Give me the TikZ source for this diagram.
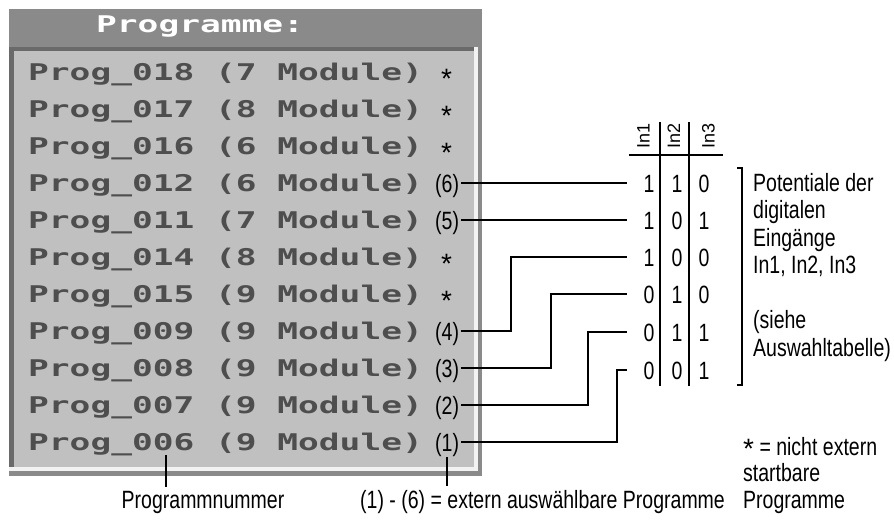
\documentclass[tikz,border=0pt]{standalone}
\usepackage{fontspec}
\setmainfont{Liberation Sans}
\newfontfamily\narrowsans[FakeStretch=0.78]{Liberation Sans}
\newfontfamily\pixfont[FakeStretch=1.5]{DejaVu Sans Mono}
\newfontfamily\starfont{Liberation Sans}
\newcommand\pstar[1]{{\starfont\fontsize{28}{28}\selectfont\raisebox{#1}[0pt][0pt]{*}}}
\definecolor{barcol}{HTML}{8A8A8A}
\definecolor{panelcol}{HTML}{C0C0C0}
\definecolor{darkedge}{HTML}{6A6A6A}
\definecolor{lightedge}{HTML}{F2F2F2}
\definecolor{pixtext}{HTML}{4E4E4E}
\begin{document}
\begin{tikzpicture}[x=1pt,y=-1pt,
  prog/.style={anchor=west,inner sep=0pt,text height=17pt,text depth=0pt,
    font=\pixfont\bfseries\fontsize{23}{23}\selectfont,text=pixtext},
  titletext/.style={prog,text=white},
  marklbl/.style={anchor=west,inner xsep=2pt,inner ysep=0pt,text height=18pt,text depth=0pt,
    font=\narrowsans\fontsize{25}{27.5}\selectfont},
  starlbl/.style={marklbl},
  digit/.style={anchor=center,inner sep=0pt,text height=18pt,text depth=0pt,
    font=\narrowsans\fontsize{25}{27.5}\selectfont},
  head/.style={rotate=90,anchor=base west,inner sep=0pt,font=\fontsize{18}{18}\selectfont},
  lbl/.style={anchor=base west,inner sep=0pt,font=\narrowsans\fontsize{25}{27.5}\selectfont},
  wire/.style={line width=2pt},
  tabline/.style={line width=1.5pt}]
\useasboundingbox (0,0) rectangle (894,520);

% panel
\fill[barcol] (9,9) rectangle (482,476);
\fill[lightedge] (9,47) rectangle (478,471);
\fill[darkedge] (9,47) rectangle (474,467);
\fill[panelcol] (14,51) rectangle (474,467);
\node[titletext] (ttl) at (96,24) {Programme:};

\foreach \i/\prnum/\prmod in {0/018/7,1/017/8,2/016/6,3/012/6,4/011/7,5/014/8,6/015/9,7/009/9,8/008/9,9/007/9,10/006/9}
  \node[prog] (p\i) at (28,{72+37*\i}) {Prog\_\prnum\ (\prmod\ Module)};

\foreach \i in {0,1,2,5,6}
  \node[starlbl] (s\i) at (439,{72+37*\i}) {\pstar{-7pt}};

\node[marklbl] (m6) at (433,183) {(6)};
\node[marklbl] (m5) at (433,220) {(5)};
\node[marklbl] (m4) at (433,331) {(4)};
\node[marklbl] (m3) at (433,368) {(3)};
\node[marklbl] (m2) at (433,405) {(2)};
\node[marklbl] (m1) at (433,442) {(1)};

% table
\coordinate (t1) at (627,183);
\coordinate (t2) at (627,220);
\coordinate (t3) at (627,257);
\coordinate (t4) at (627,294);
\coordinate (t5) at (627,332);
\coordinate (t6) at (627,370);
\coordinate (k4) at (511,0);
\coordinate (k3) at (551,0);
\coordinate (k2) at (588,0);
\coordinate (k1) at (617,0);

\draw[wire] (m6.east) -- (t1);
\draw[wire] (m5.east) -- (t2);
\draw[wire] (m4.east) -| (k4 |- t3) -- (t3);
\draw[wire] (m3.east) -| (k3 |- t4) -- (t4);
\draw[wire] (m2.east) -| (k2 |- t5) -- (t5);
\draw[wire] (m1.east) -| (k1 |- t6) -- (t6);

\draw[tabline] (629,155) -- (723,155);
\draw[tabline] (660,122) -- (660,386);
\draw[tabline] (689,122) -- (689,386);
\node[head] (h1) at (649.5,149) {In1};
\node[head] (h2) at (680,149) {In2};
\node[head] (h3) at (714.5,149) {In3};

\foreach \r/\yy/\va/\vb/\vc in {1/183/1/1/0,2/220/1/0/1,3/257/1/0/0,4/294/0/1/0,5/332/0/1/1,6/370/0/0/1}{
  \node[digit] (d\r a) at (649,\yy) {\va};
  \node[digit] (d\r b) at (677,\yy) {\vb};
  \node[digit] (d\r c) at (704,\yy) {\vc};
}

\draw[wire] (737,168) -- (742,168) -- (742,385) -- (737,385);

\node[lbl] (pot1) at (753,191) {Potentiale der};
\node[lbl] (pot2) at (753,218.5) {digitalen};
\node[lbl] (pot3) at (753,246) {Eingänge};
\node[lbl] (pot4) at (753,273.5) {In1, In2, In3};
\node[lbl] (pot5) at (753,328.5) {(siehe};
\node[lbl] (pot6) at (753,356) {Auswahltabelle)};

\node[lbl] (nx1) at (743,455) {\pstar{-3pt} = nicht extern};
\node[lbl] (nx2) at (743,481.5) {startbare};
\node[lbl] (nx3) at (743,508) {Programme};

\node[lbl,anchor=base] (num) at (203,508) {Programmnummer};
\node[lbl] (ext) at (360,508) {(1) - (6) = extern auswählbare Programme};

\coordinate (pn) at (166,455);
\draw[wire,shorten >=4pt] (pn) -- (pn |- num.north);
\draw[wire,shorten >=4pt] ([yshift=-6pt]m1.south) -- (m1.south |- ext.north);
\end{tikzpicture}
\end{document}
